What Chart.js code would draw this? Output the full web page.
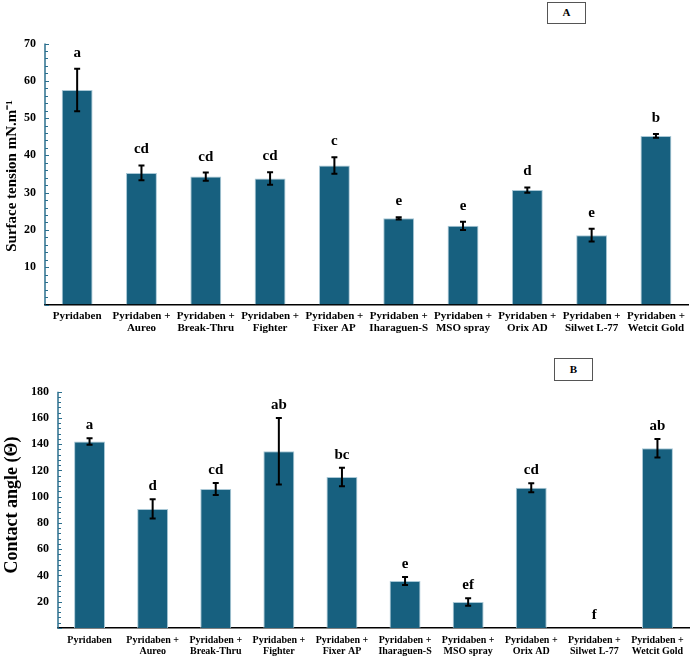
<!DOCTYPE html>
<html>
<head>
<meta charset="utf-8">
<script src="https://cdn.jsdelivr.net/npm/chart.js@4.4.1/dist/chart.umd.min.js"></script>
<style>
  body { margin: 0; background: #fff; }
  #wrap { position: relative; width: 691px; height: 661px; overflow: hidden; }
  canvas { position: absolute; left: 0; }
  #chartA { top: 0; }
  #chartB { top: 330px; }
  .panel {
    position: absolute; border: 1.5px solid #555; background: #fff;
    font: bold 11px "Liberation Serif", "Times New Roman", serif;
    text-align: center; box-sizing: border-box;
  }
</style>
</head>
<body>
<div id="wrap">
  <canvas id="chartA" width="691" height="336"></canvas>
  <canvas id="chartB" width="691" height="331"></canvas>
  <div class="panel" style="left:547px; top:2px; width:39px; height:22px; line-height:19px;">A</div>
  <div class="panel" style="left:554px; top:358px; width:39px; height:23px; line-height:20px;">B</div>
</div>
<script>
// Treatments (x axis)
const categories = [
    ['Pyridaben'],
    ['Pyridaben +', 'Aureo'],
    ['Pyridaben +', 'Break-Thru'],
    ['Pyridaben +', 'Fighter'],
    ['Pyridaben +', 'Fixer AP'],
    ['Pyridaben +', 'Iharaguen-S'],
    ['Pyridaben +', 'MSO spray'],
    ['Pyridaben +', 'Orix AD'],
    ['Pyridaben +', 'Silwet L-77'],
    ['Pyridaben +', 'Wetcit Gold']
];

// Panel A - surface tension
const surfaceTension = [57.5, 35.3, 34.3, 33.8, 37.3, 23.1, 21.1, 30.7, 18.6, 45.2];
const surfaceErr = [5.7, 2.0, 1.1, 1.7, 2.2, 0.3, 1.1, 0.7, 1.7, 0.5];
const surfaceLetters = ['a', 'cd', 'cd', 'cd', 'c', 'e', 'e', 'd', 'e', 'b'];
const surfaceTicks = [0, 10, 20, 30, 40, 50, 60, 70];

// Panel B - contact angle
const contactAngle = [142, 90.7, 105.9, 134.6, 115, 35.8, 19.8, 106.9, 0, 136.9];
const contactErr = [2.5, 7.3, 4.6, 25.3, 7, 3, 2.9, 3.4, 0, 7];
const contactLetters = ['a', 'd', 'cd', 'ab', 'bc', 'e', 'ef', 'cd', 'f', 'ab'];
const contactTicks = [0, 20, 40, 60, 80, 100, 120, 140, 160, 180];

const serif = '"Liberation Serif", "Times New Roman", serif';
const barColor = '#17607f';
const barEdge = '#a9c8d6';
const axisBlue = '#2b6f8e';

// error bars + significance letters
const errorBarPlugin = {
    id: 'errorBars',
    afterDatasetsDraw(chart, args, opts) {
        const ctx = chart.ctx;
        const meta = chart.getDatasetMeta(0);
        const y = chart.scales.y;
        const values = chart.data.datasets[0].data;
        ctx.save();
        meta.data.forEach((bar, i) => {
            const v = values[i];
            const e = opts.errors[i];
            const top = y.getPixelForValue(v + e);
            const bot = y.getPixelForValue(v - e);
            if (e > 0) {
                ctx.strokeStyle = '#000';
                ctx.lineWidth = 2;
                ctx.beginPath();
                ctx.moveTo(bar.x, top); ctx.lineTo(bar.x, bot);
                ctx.moveTo(bar.x - 3, top); ctx.lineTo(bar.x + 3, top);
                ctx.moveTo(bar.x - 3, bot); ctx.lineTo(bar.x + 3, bot);
                ctx.stroke();
            }
            ctx.fillStyle = '#000';
            ctx.font = 'bold 15px ' + serif;
            ctx.textAlign = 'center';
            ctx.textBaseline = 'alphabetic';
            ctx.fillText(opts.letters[i], bar.x, top - opts.gap);
        });
        ctx.restore();
    }
};

// y axis line with small inside ticks, plus the rotated axis title
const yAxisPlugin = {
    id: 'yAxisTicks',
    afterDraw(chart, args, opts) {
        const ctx = chart.ctx;
        const y = chart.scales.y;
        const x0 = chart.chartArea.left;
        ctx.save();
        ctx.strokeStyle = axisBlue;
        ctx.lineWidth = 1.5;
        ctx.beginPath();
        ctx.moveTo(x0, y.getPixelForValue(y.max));
        ctx.lineTo(x0, y.getPixelForValue(y.min));
        ctx.stroke();
        ctx.lineWidth = 1;
        ctx.beginPath();
        for (let v = y.min; v <= y.max; v += opts.minor) {
            const py = Math.round(y.getPixelForValue(v)) + 0.5;
            const len = (v % opts.major === 0) ? 4 : 3;
            ctx.moveTo(x0, py);
            ctx.lineTo(x0 + len, py);
        }
        ctx.stroke();

        // axis title
        ctx.translate(opts.titleX, opts.titleY);
        ctx.rotate(-Math.PI / 2);
        ctx.fillStyle = '#000';
        ctx.font = 'bold ' + opts.titleSize + 'px ' + serif;
        ctx.textAlign = 'center';
        ctx.textBaseline = 'middle';
        ctx.fillText(opts.title, 0, 0);
        ctx.restore();
    }
};

function makeChart(id, cfg) {
    const el = document.getElementById(id);
    return new Chart(el.getContext('2d'), {
        type: 'bar',
        data: {
            labels: categories,
            datasets: [{
                data: cfg.values,
                backgroundColor: barColor,
                borderColor: barEdge,
                borderWidth: 1,
                categoryPercentage: 1,
                barPercentage: cfg.barPct
            }]
        },
        options: {
            responsive: false,
            animation: false,
            devicePixelRatio: 1,
            layout: { padding: { top: cfg.top, right: 2, left: 0, bottom: 0 } },
            plugins: {
                legend: { display: false },
                tooltip: { enabled: false },
                errorBars: { errors: cfg.errors, letters: cfg.letters, gap: cfg.gap },
                yAxisTicks: {
                    minor: cfg.minor, major: cfg.major,
                    title: cfg.title, titleSize: cfg.titleSize,
                    titleX: cfg.titleX, titleY: cfg.titleY
                }
            },
            scales: {
                x: {
                    grid: { display: false, drawTicks: false },
                    border: { display: true, color: '#000', width: 1.5 },
                    ticks: {
                        color: '#000',
                        font: { family: serif, weight: 'bold', size: cfg.xFont, lineHeight: 1.1 },
                        padding: cfg.xPad,
                        maxRotation: 0,
                        autoSkip: false
                    },
                    afterFit(scale) { scale.height = cfg.xHeight; }
                },
                y: {
                    min: cfg.ticks[0],
                    max: cfg.ticks[cfg.ticks.length - 1],
                    grid: { display: false, drawTicks: false },
                    border: { display: false },
                    afterBuildTicks(scale) {
                        scale.ticks = cfg.ticks.map(v => ({ value: v }));
                    },
                    ticks: {
                        color: '#000',
                        font: { family: serif, weight: 'bold', size: 12 },
                        padding: cfg.yPad,
                        callback: v => (v === 0 ? '' : v)
                    },
                    afterFit(scale) { scale.width = cfg.yWidth; }
                }
            }
        },
        plugins: [errorBarPlugin, yAxisPlugin]
    });
}

makeChart('chartA', {
    values: surfaceTension,
    errors: surfaceErr,
    letters: surfaceLetters,
    ticks: surfaceTicks,
    title: 'Surface tension mN.m\u207B\u00B9',
    titleSize: 15,
    titleX: 12,
    titleY: 176,
    top: 43.5,
    xHeight: 336 - 304.5,
    xFont: 11,
    xPad: 6,
    yWidth: 45,
    yPad: 9,
    barPct: 0.48,
    gap: 12,
    minor: 2,
    major: 10
});

makeChart('chartB', {
    values: contactAngle,
    errors: contactErr,
    letters: contactLetters,
    ticks: contactTicks,
    title: 'Contact angle (\u0398)',
    titleSize: 18,
    titleX: 12,
    titleY: 175,
    top: 61.7,
    xHeight: 331 - 298,
    xFont: 10,
    xPad: 7,
    yWidth: 58,
    yPad: 9,
    barPct: 0.49,
    gap: 9,
    minor: 4,
    major: 20
});
</script>
</body>
</html>
